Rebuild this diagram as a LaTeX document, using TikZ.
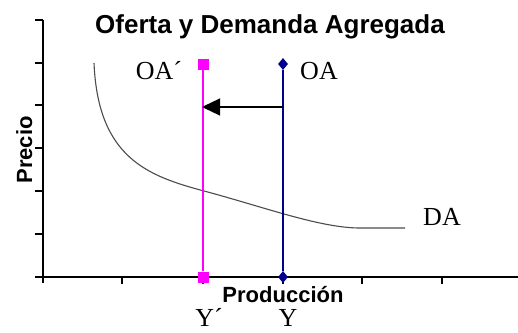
\documentclass[tikz,border=0pt]{standalone}
\usepackage{fontspec}
\setmainfont{Liberation Serif}
\setsansfont{Liberation Sans}
\usepackage{tikz}
\usetikzlibrary{shapes.geometric,arrows.meta,positioning,calc}
\definecolor{oanavy}{RGB}{0,0,140}
\definecolor{oapink}{RGB}{255,0,255}
\definecolor{dagray}{gray}{0.3}

\begin{document}
\begin{tikzpicture}[x=1pt,y=-1pt,
    axis/.style={line width=1.6pt},
    tickmark/.style={line width=1.4pt},
    lbl/.style={font=\fontsize{26}{30}\selectfont, inner sep=0pt, anchor=base},
    ttl/.style={font=\sffamily\bfseries\fontsize{26}{30}\selectfont, inner sep=0pt, anchor=base},
    axlbl/.style={font=\sffamily\bfseries\fontsize{22}{26}\selectfont, inner sep=0pt, anchor=base},
    oasq/.style={rectangle, fill=oapink, minimum size=11pt, inner sep=0pt},
    oadia/.style={diamond, fill=oanavy, minimum width=10pt, minimum height=12pt, inner sep=0pt}]

    % Background
    \useasboundingbox (0,0) rectangle (518,332);
    \fill[white] (0,0) rectangle (518,332);

    % Title
    \node[ttl] (title) at (270,33) {Oferta y Demanda Agregada};

    % Axes
    \draw[axis] (43,20) -- (43,283);
    \draw[axis] (35,277) -- (518,277);
    \foreach \y in {20,63,105,148,191,234} {
        \draw[tickmark] (35,\y) -- (43,\y);
    }
    \foreach \x in {122,203,283,362,442} {
        \draw[tickmark] (\x,277) -- (\x,284);
    }
    \node[axlbl, rotate=90] (precio) at (32,150) {Precio};
    \node[axlbl] (prod) at (283,302) {Producción};

    % Demand curve
    \draw[dagray, line width=1.1pt] (94,63) .. controls (98,158) and (148,176) .. (204,191)
        .. controls (264,207) and (320,228) .. (360,228) -- (405,228);
    \node[lbl] (da) at (442,225) {DA};

    % Supply lines
    \node[oasq] (oap) at (203,64) {};
    \node[oasq] (yp) at (203,277) {};
    \draw[oapink, line width=1.5pt] (oap) -- (yp);
    \node[oadia] (oa) at (283,64) {};
    \node[oadia] (y) at (283,277) {};
    \draw[oanavy, line width=1.5pt] (oa) -- (y);

    % Shift
    \coordinate (shfrom) at (283,107);
    \coordinate (shto) at (202,107);
    \draw[line width=1.3pt, -{Triangle[length=18pt,width=17pt]}] (shfrom) -- (shto);

    % Labels
    \node[lbl] (loap) at (159,79) {OA´};
    \node[lbl] (loa) at (319,79) {OA};
    \node[lbl] (lyp) at (209,326) {Y´};
    \node[lbl] (ly) at (288,326) {Y};

\end{tikzpicture}
\end{document}
